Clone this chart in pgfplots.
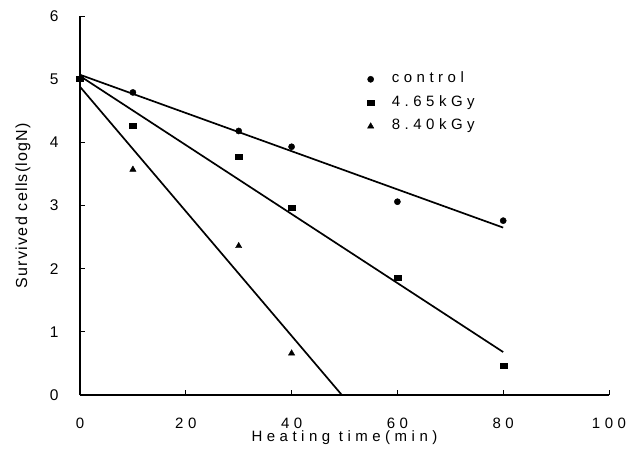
\documentclass[border=0pt]{standalone}
\usepackage{fontspec}
\setmainfont{Liberation Sans}
\newfontfamily\spaced[LetterSpace=30]{Liberation Sans}
\newfontfamily\ylab[LetterSpace=8]{Liberation Sans}
\usepackage{pgfplots}
\pgfplotsset{compat=1.18}

\begin{document}
\begin{tikzpicture}
\begin{axis}[
  scale only axis, width=529pt, height=379pt,
  xmin=0, xmax=100, ymin=0, ymax=6,
  clip=false,
  axis x line=bottom, axis y line=left, axis line style={-, line width=1.1pt, black},
  tick align=inside, major tick length=5pt, tick style={line width=0.9pt, black},
  xtick={0,20,...,100}, ytick={0,1,...,6},
  /pgf/number format/assume math mode=true,
  xticklabel style={font=\fontsize{15}{18}\selectfont\spaced, yshift=-19pt},
  every y tick label/.append style={font=\fontsize{15.5}{18}\selectfont, anchor=east, xshift=-18pt},
  xlabel={Heating time(min)},
  ylabel={Survived cells(logN)},
  xlabel style={font=\fontsize{15}{18}\selectfont\spaced, at={(axis description cs:0.5,-0.1135)}, anchor=center},
  ylabel style={font=\fontsize{16}{18}\selectfont\ylab, at={(axis description cs:-0.108,0.5)}, rotate=0, anchor=center},
  legend style={at={(axis description cs:0.5425,0.856)}, anchor=north west, draw=none, fill=none,
    font=\fontsize{15}{18}\selectfont\spaced, row sep=6.5pt, inner sep=0pt,
    nodes={inner sep=2pt, text height=10pt, text depth=3pt}},
  legend cell align=left,
  legend image code/.code={\draw[#1] plot coordinates {(0pt,0pt)}; \path (-3pt,0pt) (19pt,0pt);},
]
\addplot[only marks, mark=*, mark size=3.1pt, black] coordinates {(0,5) (10,4.79) (30,4.18) (40,3.93) (60,3.06) (80,2.76)};
\addlegendentry{control}
\addplot[only marks, mark=square*, mark size=2.5pt, black, mark options={xscale=1.4}] coordinates {(0,5) (10,4.27) (30,3.77) (40,2.96) (60,1.86) (80,0.46)};
\addlegendentry{4.65kGy}
\addplot[only marks, mark=triangle*, mark size=3.6pt, black] coordinates {(0,5) (10,3.57) (30,2.36) (40,0.66)};
\addlegendentry{8.40kGy}
\addplot[black, line width=1.7pt, forget plot] coordinates {(0,5.07) (80,2.65)};
\addplot[black, line width=1.7pt, forget plot] coordinates {(0,5.05) (80,0.68)};
\addplot[black, line width=1.7pt, forget plot] coordinates {(0,4.88) (49.5,0)};
\coordinate (O) at (rel axis cs:0,0);
\end{axis}
\path ([shift={(-80pt,-61pt)}]O) rectangle ++(641pt,456pt);
\end{tikzpicture}
\end{document}
